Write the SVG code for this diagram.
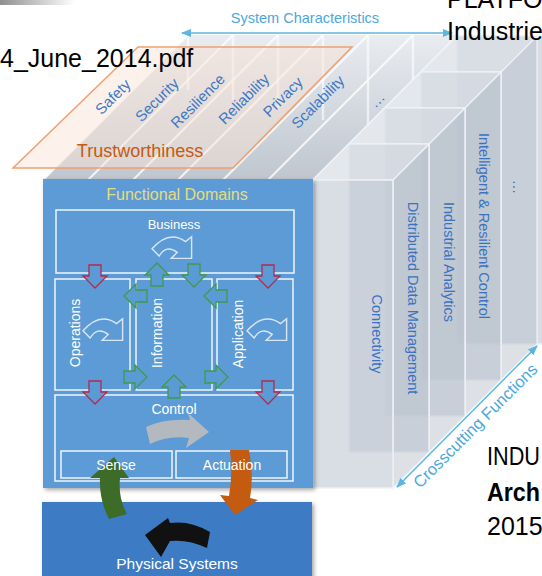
<svg xmlns="http://www.w3.org/2000/svg" width="542" height="576" viewBox="0 0 542 576">
<defs>
<style>
text{font-family:"Liberation Sans",Arial,sans-serif}
.blk{font-size:25px;fill:#000}
.char{font-size:15px;fill:#3c78c6}
.cc{font-size:14.5px;fill:#3b72c2}
.wt{fill:#fff}
.box{fill:none;stroke:#fff;stroke-width:1.5;opacity:.9}
.red{fill:#5b9bd5;stroke:#b8284a;stroke-width:1.3}
.grn{fill:#5b9bd5;stroke:#3f9a48;stroke-width:1.3}
.icon{fill:none;stroke:#fff;stroke-width:1.2;opacity:.75}
.sl{stroke:#fff;stroke-width:2;opacity:.8}
.vl{stroke:#fff;stroke-width:2.5;opacity:.6}
.slabF{fill:#c2cad5;fill-opacity:.62;stroke:#eef1f5;stroke-width:1.5}
.slabT{fill:#d8dee6;fill-opacity:.7;stroke:#eef1f5;stroke-width:1.2}
.slabS{fill:#b3bcc7;fill-opacity:.45;stroke:#eef1f5;stroke-width:1.2}
.cyan{stroke:#5cb6e0;stroke-width:1.5;fill:none}
</style>
<linearGradient id="topGrad" x1="0" y1="0" x2="0" y2="1">
<stop offset="0" stop-color="#e9ecf0"/><stop offset="1" stop-color="#bfc6cf"/>
</linearGradient>
<linearGradient id="barGrad" x1="0" y1="0" x2="1" y2="0">
<stop offset="0" stop-color="#8f8f8f"/><stop offset="1" stop-color="#ffffff"/>
</linearGradient>
<marker id="ah" markerWidth="10" markerHeight="8" refX="9" refY="4" orient="auto-start-reverse" markerUnits="userSpaceOnUse"><path d="M0,0 L10,4 L0,8 Z" fill="#5cb6e0"/></marker>
<path id="dArrow" d="M-6,0 H6 V11 H12 L0,23 L-12,11 H-6 Z"/>
<path id="curl" d="M0,14 Q14,-2 28,8 L33,4 L33,22 L16,22 L21,17 Q12,10 6,20 Z"/>
<filter id="sh" x="-10%" y="-10%" width="130%" height="130%"><feDropShadow dx="2" dy="2" stdDeviation="2" flood-color="#000" flood-opacity=".35"/></filter>
</defs>
<rect width="542" height="576" fill="#fff"/>
<rect x="0" y="0" width="75" height="5" fill="url(#barGrad)"/>

<g id="system-characteristics-slices">
<polygon points="43,180 188,35 458,35 313,180" fill="url(#topGrad)"/>
<line class="vl" x1="188" y1="35" x2="188" y2="90"/>
<line class="vl" x1="233" y1="35" x2="233" y2="100"/>
<line class="vl" x1="278" y1="35" x2="278" y2="110"/>
<line class="vl" x1="323" y1="35" x2="323" y2="120"/>
<line class="vl" x1="368" y1="35" x2="368" y2="125"/>
<line class="vl" x1="413" y1="35" x2="413" y2="125"/>
<line class="sl" x1="43" y1="180" x2="188" y2="35"/>
<line class="sl" x1="88" y1="180" x2="233" y2="35"/>
<line class="sl" x1="133" y1="180" x2="278" y2="35"/>
<line class="sl" x1="178" y1="180" x2="323" y2="35"/>
<line class="sl" x1="223" y1="180" x2="368" y2="35"/>
<line class="sl" x1="268" y1="180" x2="413" y2="35"/>
<line class="sl" x1="313" y1="180" x2="458" y2="35"/>
</g>

<g id="crosscutting-slabs">
<g id="slab-more">
<rect class="slabF" x="457" y="36" width="90" height="308"/>
</g>
<g id="slab-control">
<polygon class="slabS" points="501,72 537,36 537,344 501,380"/>
<polygon class="slabT" points="421,72 501,72 537,36 457,36"/>
<rect class="slabF" x="421" y="72" width="80" height="308"/>
</g>
<g id="slab-analytics">
<polygon class="slabS" points="465,108 501,72 501,380 465,416"/>
<polygon class="slabT" points="385,108 465,108 501,72 421,72"/>
<rect class="slabF" x="385" y="108" width="80" height="308"/>
</g>
<g id="slab-data">
<polygon class="slabS" points="429,144 465,108 465,416 429,452"/>
<polygon class="slabT" points="349,144 429,144 465,108 385,108"/>
<rect class="slabF" x="349" y="144" width="80" height="308"/>
</g>
<g id="slab-connectivity">
<polygon class="slabS" points="393,180 429,144 429,452 393,488"/>
<polygon class="slabT" points="313,180 393,180 429,144 349,144"/>
<rect class="slabF" x="313" y="180" width="80" height="308"/>
</g>
<text class="cc" text-anchor="middle" transform="translate(372,334) rotate(90)">Connectivity</text>
<text class="cc" text-anchor="middle" transform="translate(408,298) rotate(90)">Distributed Data Management</text>
<text class="cc" text-anchor="middle" transform="translate(444,262) rotate(90)">Industrial Analytics</text>
<text class="cc" text-anchor="middle" transform="translate(479,226) rotate(90)">Intelligent &amp; Resilient Control</text>
<text class="cc" text-anchor="middle" transform="translate(513,187) rotate(90)">…</text>
</g>

<g id="trustworthiness">
<polygon points="138,47 352,47 233,168 13,168" fill="#fbe3d2" fill-opacity=".45" stroke="#f0a070" stroke-width="1.5"/>
<text x="140" y="157" text-anchor="middle" font-size="18" fill="#c55a11">Trustworthiness</text>
<text class="char" text-anchor="middle" y="5" transform="translate(113,97) rotate(-45)">Safety</text>
<text class="char" text-anchor="middle" y="5" transform="translate(157,100) rotate(-45)">Security</text>
<text class="char" text-anchor="middle" y="5" transform="translate(198,101) rotate(-45)">Resilience</text>
<text class="char" text-anchor="middle" y="5" transform="translate(244,99) rotate(-45)">Reliability</text>
<text class="char" text-anchor="middle" y="5" transform="translate(283,97) rotate(-45)">Privacy</text>
<text class="char" text-anchor="middle" y="5" transform="translate(318,102) rotate(-45)">Scalability</text>
<text class="char" text-anchor="middle" y="5" transform="translate(377,100) rotate(-45)">…</text>
</g>

<g id="functional-domains">
<rect x="43" y="179" width="270" height="309" fill="#5b9bd5" filter="url(#sh)"/>
<text x="177" y="200" text-anchor="middle" font-size="16" fill="#e6dc7c">Functional Domains</text>
<g id="business">
<rect class="box" x="56" y="210" width="238" height="63"/>
<text class="wt" x="174" y="229" text-anchor="middle" font-size="13">Business</text>
<use href="#curl" class="icon" transform="translate(152,232) scale(1.2)"/>
</g>
<g id="operations">
<rect class="box" x="55" y="279" width="75" height="111"/>
<text class="wt" font-size="14" text-anchor="middle" transform="translate(80,333) rotate(-90)">Operations</text>
<use href="#curl" class="icon" transform="translate(83,314) scale(1.2)"/>
</g>
<g id="information">
<rect class="box" x="136" y="279" width="76" height="111"/>
<text class="wt" font-size="14" text-anchor="middle" transform="translate(162,333) rotate(-90)">Information</text>
</g>
<g id="application">
<rect class="box" x="217" y="279" width="76" height="111"/>
<text class="wt" font-size="14" text-anchor="middle" transform="translate(243,334) rotate(-90)">Application</text>
<use href="#curl" class="icon" transform="translate(247,314) scale(1.2)"/>
</g>
<g id="control">
<rect class="box" x="55" y="395" width="238" height="86"/>
<text class="wt" x="174" y="414" text-anchor="middle" font-size="14">Control</text>
</g>
<g id="sense">
<rect class="box" x="61" y="451" width="111" height="27"/>
</g>
<g id="actuation">
<rect class="box" x="176" y="451" width="111" height="27"/>
</g>
</g>

<g id="physical-systems">
<rect x="42" y="502" width="270" height="80" fill="#3d7cc4" filter="url(#sh)"/>
<text class="wt" x="177" y="569" text-anchor="middle" font-size="15.5">Physical Systems</text>
</g>

<g id="connectors">
<use href="#dArrow" class="red" transform="translate(95,265)"/>
<use href="#dArrow" class="red" transform="translate(268,265)"/>
<use href="#dArrow" class="red" transform="translate(95,381)"/>
<use href="#dArrow" class="red" transform="translate(268,381)"/>
<use href="#dArrow" class="grn" transform="translate(157,286) rotate(180)"/>
<use href="#dArrow" class="grn" transform="translate(194,264)"/>
<use href="#dArrow" class="grn" transform="translate(147,296) rotate(90)"/>
<use href="#dArrow" class="grn" transform="translate(227,296) rotate(90)"/>
<use href="#dArrow" class="grn" transform="translate(124,377) rotate(-90)"/>
<use href="#dArrow" class="grn" transform="translate(205,377) rotate(-90)"/>
<use href="#dArrow" class="grn" transform="translate(174,398) rotate(180)"/>
<path d="M146,427 Q165,418 190,420 L188,413 L209,432 L186,448 L189,438 Q168,435 150,444 Z" fill="#bdbdbd" fill-opacity=".9"/>
<path d="M90,478 L114,457 L129,478 L120,478 Q118,498 127,514 L109,519 Q99,500 100,478 Z" fill="#3d6b28"/>
<path d="M230,450 L249,450 Q254,475 250,498 L258,500 L235,515 L220,495 L229,496 Q233,473 230,450 Z" fill="#c55a11"/>
<path d="M210,532 Q190,520 170,523 L168,518 L145,535 L161,557 L170,541 Q188,539 207,548 Z" fill="#111"/>
<line class="cyan" x1="182" y1="33" x2="452" y2="33" marker-start="url(#ah)" marker-end="url(#ah)"/>
<line class="cyan" x1="397" y1="487" x2="537" y2="346" marker-start="url(#ah)" marker-end="url(#ah)"/>
</g>

<text class="wt" x="116" y="470" text-anchor="middle" font-size="14">Sense</text>
<text class="wt" x="232" y="470" text-anchor="middle" font-size="14">Actuation</text>
<text x="305" y="23" text-anchor="middle" font-size="14.5" fill="#4aa8dc">System Characteristics</text>
<text transform="translate(420,489) rotate(-45)" font-size="16.5" fill="#4aa8dc">Crosscutting Functions</text>

<g id="page-text">
<text class="blk" x="0" y="67">4_June_2014.pdf</text>
<text class="blk" x="447" y="8">PLATFOR</text>
<text class="blk" x="447" y="40">Industrie</text>
<text class="blk" x="487" y="465" textLength="53" lengthAdjust="spacingAndGlyphs">INDU</text>
<text class="blk" x="487" y="501" font-weight="bold" textLength="53" lengthAdjust="spacingAndGlyphs">Arch</text>
<text class="blk" x="487" y="535">2015</text>
</g>
</svg>
